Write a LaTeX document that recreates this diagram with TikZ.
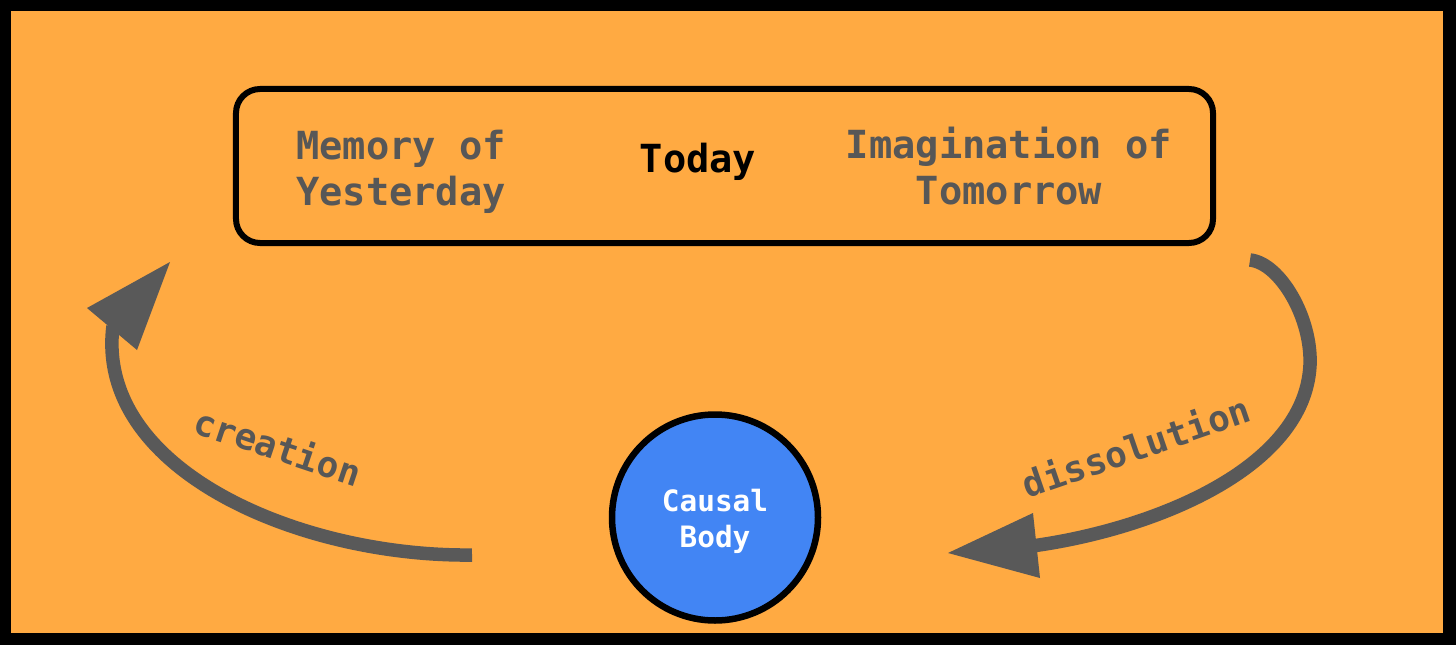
\documentclass[tikz,border=0pt]{standalone}
\usepackage{fontspec}
\setmonofont{DejaVu Sans Mono}
\definecolor{bgorange}{HTML}{FFAA42}
\definecolor{txtgray}{HTML}{575757}
\definecolor{arrgray}{HTML}{595959}
\definecolor{bodyblue}{HTML}{4285F4}
\tikzset{
  lbl/.style={font=\ttfamily\bfseries\fontsize{38.7bp}{46bp}\selectfont, text=txtgray, align=center, inner sep=0pt},
  arclbl/.style={font=\ttfamily\bfseries\fontsize{36bp}{40bp}\selectfont, text=txtgray, inner sep=0pt},
  arrowline/.style={draw=arrgray, line width=13.5bp, line cap=butt},
  headtri/.style={fill=arrgray},
  framebox/.style={draw=black, line width=6bp, rounded corners=24bp, minimum width=977bp, minimum height=154bp, inner sep=0pt},
  bodycircle/.style={circle, draw=black, fill=bodyblue, line width=6.5bp, minimum size=206bp, inner sep=0pt, text=white, align=center, font=\ttfamily\bfseries\fontsize{29.4bp}{36bp}\selectfont},
}
\begin{document}
\begin{tikzpicture}[x=1bp,y=-1bp]
  % background and frame
  \fill[black] (0,0) rectangle (1456,645);
  \fill[bgorange] (11,11) rectangle (1443,633);
  \useasboundingbox (0,0) rectangle (1456,645);

  % top box
  \node[framebox] (box) at (724.5,166) {};
  \node[lbl] (memory) at (401,172) {Memory of\\Yesterday};
  \node[lbl, text=black] (today) at (698,162) {Today};
  \node[lbl] (imagination) at (1009,166.5) {Imagination of\\Tomorrow};

  % causal body
  \node[bodycircle] (causal) at (715,517.5) {\rule{0pt}{30.5bp}Causal\\Body};

  % left arrow (creation)
  \coordinate (ltail) at (472,555);
  \coordinate (lend) at (113,326);
  \coordinate (ltip) at (170,262);
  \coordinate (lc1) at (87,308);
  \coordinate (lc2) at (137,350);
  \draw[arrowline] (ltail) .. controls (300,557) and (95,470) .. (lend);
  \fill[headtri] (ltip) -- (lc1) -- (lc2) -- cycle;
  \node[arclbl, rotate=-18.5] (creation) at (278,446) {creation};

  % right arrow (dissolution)
  \coordinate (rtail) at (1250,260);
  \coordinate (rmid) at (1310,365);
  \coordinate (rend) at (1032,546);
  \coordinate (rtip) at (948,553);
  \coordinate (rc1) at (1033,513);
  \coordinate (rc2) at (1040,578);
  \draw[arrowline] (rtail) .. controls (1280,263) and (1312,318) .. (rmid)
                           .. controls (1305,470) and (1150,530) .. (rend);
  \fill[headtri] (rtip) -- (rc1) -- (rc2) -- cycle;
  \node[arclbl, rotate=19] (dissolution) at (1136,446) {dissolution};
\end{tikzpicture}
\end{document}
